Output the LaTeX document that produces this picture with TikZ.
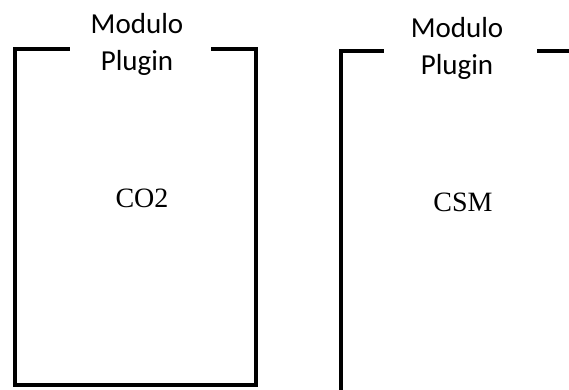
\documentclass[tikz,border=0pt]{standalone}
\usepackage{fontspec}
\setmainfont{Carlito}
\newfontfamily\labelserif{Liberation Serif}
\usepackage{tikz}
\usetikzlibrary{positioning}

\begin{document}
\begin{tikzpicture}[
  x=1pt, y=1pt,
  frame/.style={line width=4.5pt, line join=miter, line cap=rect},
  title/.style={align=center, inner sep=0pt, font=\fontsize{29}{37}\selectfont},
  module/.style={inner sep=0pt, font=\labelserif\fontsize{28}{32}\selectfont},
]
\useasboundingbox (0,0) rectangle (569,389);
\clip (0,0) rectangle (569,389);

% left module
\coordinate (l-nw) at (15,340);
\coordinate (l-ne) at (256,340);
\coordinate (l-sw) at (15,4);
\coordinate (l-se) at (256,4);
\draw[frame] (68,340) -- (l-nw) -- (l-sw) -- (l-se) -- (l-ne) -- (213,340);
\node[title] (l-title) at (137,344.5) {Modulo\\Plugin};
\node[module] (l-name) at (142,191) {CO2};

% right module
\coordinate (r-nw) at (341,338);
\coordinate (r-sw) at (341,-10);
\draw[frame] (382,338) -- (r-nw) -- (r-sw);
\draw[frame] (539,338) -- (590,338);
\node[title] (r-title) at (457,341) {Modulo\\Plugin};
\node[module] (r-name) at (463,187) {CSM};
\end{tikzpicture}
\end{document}
